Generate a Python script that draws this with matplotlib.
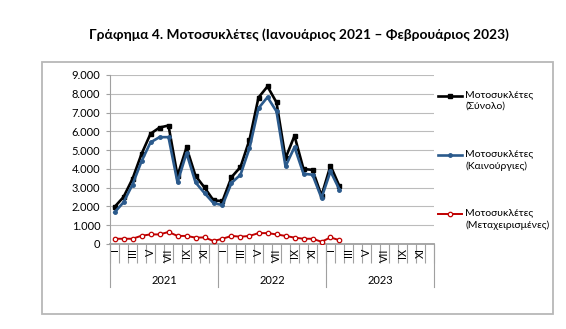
import matplotlib
matplotlib.use("Agg")
import matplotlib.pyplot as plt
from matplotlib.lines import Line2D
from matplotlib.patches import Rectangle
import matplotlib.transforms as mtransforms

# data (thousands), Jan 2021 - Feb 2023
total = [1970, 2500, 3470, 4790, 5870, 6200, 6310, 3630, 5140, 3630, 3010, 2320,
         2290, 3560, 4100, 5550, 7800, 8390, 7540, 4570, 5760, 3990, 3950, 2570,
         4170, 3070]
new = [1680, 2220, 3160, 4400, 5410, 5690, 5690, 3280, 4840, 3280, 2710, 2180,
       2070, 3250, 3690, 5100, 7230, 7820, 7060, 4130, 5160, 3740, 3690, 2450,
       3870, 2890]
used = [280, 280, 280, 440, 510, 510, 640, 430, 430, 340, 350, 160,
        280, 430, 390, 430, 580, 580, 510, 430, 340, 280, 280, 120,
        350, 200]
years = ["2021", "2022", "2023"]
months = ["I", "", "III", "", "V", "", "VII", "", "IX", "", "XI", ""]
series_names = ["Μοτοσυκλέτες\n(Σύνολο)", "Μοτοσυκλέτες\n(Καινούργιες)",
                "Μοτοσυκλέτες\n(Μεταχειρισμένες)"]

plt.rcParams['font.family'] = ['Lato', 'DejaVu Sans']

W, H = 566, 329
fig = plt.figure(figsize=(W / 100, H / 100), dpi=100)

# chart frame
fig.add_artist(Rectangle((42 / W, 1 - 314 / H), (553 - 42) / W, (314 - 62) / H,
                         transform=fig.transFigure, fill=False,
                         edgecolor='#b8b8b8', lw=1.3))

fig.text(299 / W, 1 - 35 / H,
         "Γράφημα 4. Μοτοσυκλέτες (Ιανουάριος 2021 – Φεβρουάριος 2023)",
         ha='center', va='center', fontsize=9.9, fontweight='bold')

ax = fig.add_axes([110 / W, 1 - 244 / H, 324 / W, 169 / H])
n_months = 12 * len(years)
x = list(range(len(total)))

c_tot, c_new, c_used = '#000000', '#2b5a8c', '#c00000'
ax.plot(x, total, color=c_tot, lw=1.9, marker='s', ms=3.5, zorder=3)
ax.plot(x, new, color=c_new, lw=1.9, marker='o', ms=2.5, zorder=4)
ax.plot(x, used, color=c_used, lw=1.4, marker='o', ms=3.2,
        markerfacecolor='white', markeredgewidth=0.9, zorder=3)

ax.set_xlim(-0.5, n_months - 0.5)
ax.set_ylim(0, 9000)
ax.set_yticks(range(0, 9001, 1000))
ax.set_yticklabels([f"{v:,}".replace(",", ".") for v in range(0, 9001, 1000)])
ax.yaxis.grid(True, color='#bcbcbc', lw=0.8)
ax.set_axisbelow(True)
for s in ['top', 'right']:
    ax.spines[s].set_visible(False)
ax.spines['left'].set_color('#a0a0a0')
ax.spines['bottom'].set_color('#a0a0a0')
ax.spines['bottom'].set_linewidth(1.3)
ax.tick_params(axis='y', length=3, color='#a0a0a0', labelsize=8, pad=4)

# month boundary ticks and roman labels
ax.set_xticks([i - 0.5 for i in range(n_months + 1)])
ax.set_xticklabels([])
ax.tick_params(axis='x', which='major', length=13.5, color='#a0a0a0', width=0.8)
ax.set_xticks(range(n_months), minor=True)
ax.set_xticklabels(months * len(years), minor=True, rotation=90, fontsize=7.8)
ax.tick_params(axis='x', which='minor', length=0, pad=3)

trans = mtransforms.blended_transform_factory(ax.transData, ax.transAxes)
for k, yr in enumerate(years):
    x0 = 12 * k - 0.5
    ax.add_line(Line2D([x0, x0], [0, -43 / 169], transform=trans, clip_on=False,
                       color='#a0a0a0', lw=0.8))
    ax.text(12 * k + 5.5, -36 / 169, yr, transform=trans, ha='center',
            va='center', fontsize=8)
ax.add_line(Line2D([n_months - 0.5] * 2, [0, -43 / 169], transform=trans,
                   clip_on=False, color='#a0a0a0', lw=0.8))

# legend drawn by hand
styles = [dict(color=c_tot, lw=1.9, marker='s', ms=3.5),
          dict(color=c_new, lw=1.9, marker='o', ms=2.5),
          dict(color=c_used, lw=1.4, marker='o', ms=3.2, markerfacecolor='white',
               markeredgewidth=0.9)]
for name, st, yy in zip(series_names, styles, [96, 155, 214]):
    fig.add_artist(Line2D([438 / W, 450 / W, 462 / W], [1 - yy / H] * 3,
                          transform=fig.transFigure, markevery=[1], **st))
    fig.text(465 / W, 1 - (yy - 6) / H, name, ha='left', va='top',
             fontsize=7.5, linespacing=1.4)

fig.savefig("out.png", dpi=100)
